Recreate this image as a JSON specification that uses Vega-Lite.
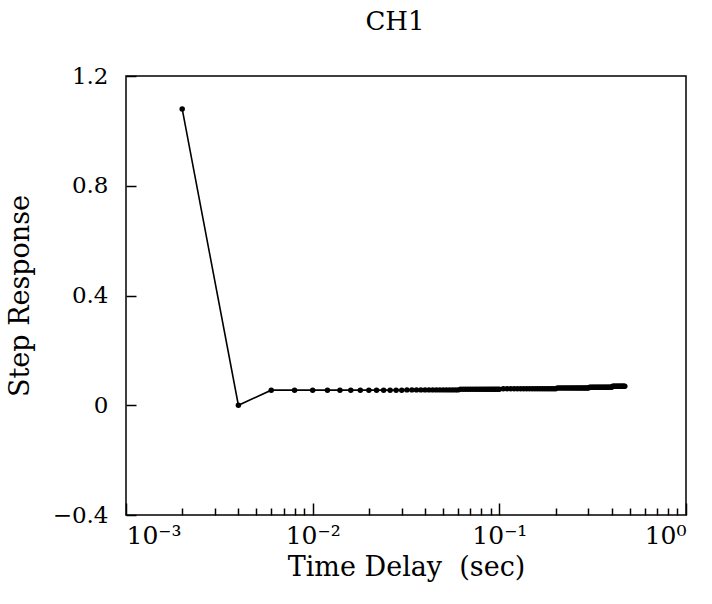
{
  "$schema": "https://vega.github.io/schema/vega-lite/v6.json",
  "autosize": "none",
  "width": 560,
  "height": 439,
  "padding": {"left": 126, "top": 76, "right": 26, "bottom": 89},
  "background": "white",
  "config": {
    "view": {"stroke": "black", "strokeWidth": 1.5},
    "font": "DejaVu Serif",
    "axis": {"grid": false, "domain": false, "labelFont": "DejaVu Serif", "titleFont": "DejaVu Serif", "labelColor": "black", "titleColor": "black", "tickColor": "black", "labelFontSize": 23, "titleFontSize": 27, "titleFontWeight": "normal", "tickWidth": 1.5}
  },
  "title": {"text": "CH1", "fontSize": 26, "fontWeight": "normal", "font": "DejaVu Serif", "color": "black", "offset": 30, "dx": -11},
  "data": {"values": [
    {"t": 0.002, "y": 1.08},
    {"t": 0.004, "y": 0.0},
    {"t": 0.006, "y": 0.055},
    {"t": 0.008, "y": 0.055},
    {"t": 0.010, "y": 0.055},
    {"t": 0.012, "y": 0.055},
    {"t": 0.014, "y": 0.055},
    {"t": 0.016, "y": 0.055},
    {"t": 0.018, "y": 0.055},
    {"t": 0.020, "y": 0.055},
    {"t": 0.022, "y": 0.055},
    {"t": 0.024, "y": 0.055},
    {"t": 0.026, "y": 0.055},
    {"t": 0.028, "y": 0.055},
    {"t": 0.030, "y": 0.055},
    {"t": 0.032, "y": 0.056},
    {"t": 0.034, "y": 0.056},
    {"t": 0.036, "y": 0.056},
    {"t": 0.038, "y": 0.056},
    {"t": 0.040, "y": 0.056},
    {"t": 0.042, "y": 0.056},
    {"t": 0.044, "y": 0.056},
    {"t": 0.046, "y": 0.056},
    {"t": 0.048, "y": 0.056},
    {"t": 0.050, "y": 0.056},
    {"t": 0.052, "y": 0.056},
    {"t": 0.054, "y": 0.056},
    {"t": 0.056, "y": 0.056},
    {"t": 0.058, "y": 0.056},
    {"t": 0.060, "y": 0.056},
    {"t": 0.062, "y": 0.058},
    {"t": 0.064, "y": 0.058},
    {"t": 0.066, "y": 0.058},
    {"t": 0.068, "y": 0.058},
    {"t": 0.070, "y": 0.058},
    {"t": 0.072, "y": 0.058},
    {"t": 0.074, "y": 0.058},
    {"t": 0.076, "y": 0.058},
    {"t": 0.078, "y": 0.058},
    {"t": 0.080, "y": 0.058},
    {"t": 0.082, "y": 0.058},
    {"t": 0.084, "y": 0.058},
    {"t": 0.086, "y": 0.058},
    {"t": 0.088, "y": 0.058},
    {"t": 0.090, "y": 0.058},
    {"t": 0.092, "y": 0.058},
    {"t": 0.094, "y": 0.058},
    {"t": 0.096, "y": 0.058},
    {"t": 0.098, "y": 0.058},
    {"t": 0.100, "y": 0.058},
    {"t": 0.105, "y": 0.060},
    {"t": 0.110, "y": 0.060},
    {"t": 0.115, "y": 0.060},
    {"t": 0.120, "y": 0.060},
    {"t": 0.125, "y": 0.060},
    {"t": 0.130, "y": 0.060},
    {"t": 0.135, "y": 0.060},
    {"t": 0.140, "y": 0.060},
    {"t": 0.145, "y": 0.060},
    {"t": 0.150, "y": 0.060},
    {"t": 0.155, "y": 0.060},
    {"t": 0.160, "y": 0.060},
    {"t": 0.165, "y": 0.060},
    {"t": 0.170, "y": 0.060},
    {"t": 0.175, "y": 0.060},
    {"t": 0.180, "y": 0.060},
    {"t": 0.185, "y": 0.060},
    {"t": 0.190, "y": 0.060},
    {"t": 0.195, "y": 0.060},
    {"t": 0.200, "y": 0.060},
    {"t": 0.205, "y": 0.063},
    {"t": 0.210, "y": 0.063},
    {"t": 0.215, "y": 0.063},
    {"t": 0.220, "y": 0.063},
    {"t": 0.225, "y": 0.063},
    {"t": 0.230, "y": 0.063},
    {"t": 0.235, "y": 0.063},
    {"t": 0.240, "y": 0.063},
    {"t": 0.245, "y": 0.063},
    {"t": 0.250, "y": 0.063},
    {"t": 0.255, "y": 0.063},
    {"t": 0.260, "y": 0.063},
    {"t": 0.265, "y": 0.063},
    {"t": 0.270, "y": 0.063},
    {"t": 0.275, "y": 0.063},
    {"t": 0.280, "y": 0.063},
    {"t": 0.285, "y": 0.063},
    {"t": 0.290, "y": 0.063},
    {"t": 0.295, "y": 0.063},
    {"t": 0.300, "y": 0.063},
    {"t": 0.305, "y": 0.066},
    {"t": 0.310, "y": 0.066},
    {"t": 0.315, "y": 0.066},
    {"t": 0.320, "y": 0.066},
    {"t": 0.325, "y": 0.066},
    {"t": 0.330, "y": 0.066},
    {"t": 0.335, "y": 0.066},
    {"t": 0.340, "y": 0.066},
    {"t": 0.345, "y": 0.066},
    {"t": 0.350, "y": 0.066},
    {"t": 0.355, "y": 0.066},
    {"t": 0.360, "y": 0.066},
    {"t": 0.365, "y": 0.066},
    {"t": 0.370, "y": 0.066},
    {"t": 0.375, "y": 0.066},
    {"t": 0.380, "y": 0.066},
    {"t": 0.385, "y": 0.066},
    {"t": 0.390, "y": 0.066},
    {"t": 0.395, "y": 0.066},
    {"t": 0.400, "y": 0.066},
    {"t": 0.405, "y": 0.069},
    {"t": 0.410, "y": 0.069},
    {"t": 0.415, "y": 0.069},
    {"t": 0.420, "y": 0.069},
    {"t": 0.425, "y": 0.069},
    {"t": 0.430, "y": 0.069},
    {"t": 0.435, "y": 0.069},
    {"t": 0.440, "y": 0.069},
    {"t": 0.445, "y": 0.069},
    {"t": 0.450, "y": 0.069},
    {"t": 0.455, "y": 0.069},
    {"t": 0.460, "y": 0.069},
    {"t": 0.465, "y": 0.069},
    {"t": 0.470, "y": 0.069}
  ]},
  "resolve": {"axis": {"x": "independent"}},
  "layer": [
    {
      "mark": {"type": "line", "color": "black", "strokeWidth": 1.6, "clip": true},
      "encoding": {
        "x": {"field": "t", "type": "quantitative",
          "scale": {"type": "log", "domain": [0.001, 1], "nice": false},
          "axis": {"orient": "bottom", "values": [0.001, 0.01, 0.1, 1], "offset": -12, "tickSize": 12, "labelPadding": 8,
            "labelExpr": "datum.value < 0.005 ? '10⁻³' : datum.value < 0.05 ? '10⁻²' : datum.value < 0.5 ? '10⁻¹' : '10⁰'",
            "title": "Time Delay\u00a0\u00a0(sec)", "titlePadding": 6, "labelFontSize": 25}},
        "y": {"field": "y", "type": "quantitative",
          "scale": {"domain": [-0.4, 1.2], "nice": false, "zero": false},
          "axis": {"values": [-0.4, 0, 0.4, 0.8, 1.2], "offset": -10, "tickSize": 10, "labelPadding": 18,
            "labelExpr": "datum.value == 0 ? '0' : replace(format(datum.value, '.1f'), '-', '−')",
            "title": "Step Response", "titlePadding": 18}}
      }
    },
    {
      "mark": {"type": "point", "filled": true, "color": "black", "size": 30, "opacity": 1},
      "encoding": {
        "x": {"field": "t", "type": "quantitative",
          "scale": {"type": "log", "domain": [0.001, 1], "nice": false},
          "axis": {"orient": "bottom", "values": [0.002, 0.003, 0.004, 0.005, 0.006, 0.007, 0.008, 0.009, 0.02, 0.03, 0.04, 0.05, 0.06, 0.07, 0.08, 0.09, 0.2, 0.3, 0.4, 0.5, 0.6, 0.7, 0.8, 0.9], "offset": -7, "tickSize": 7, "labels": false, "title": null}},
        "y": {"field": "y", "type": "quantitative"}
      }
    }
  ]
}
